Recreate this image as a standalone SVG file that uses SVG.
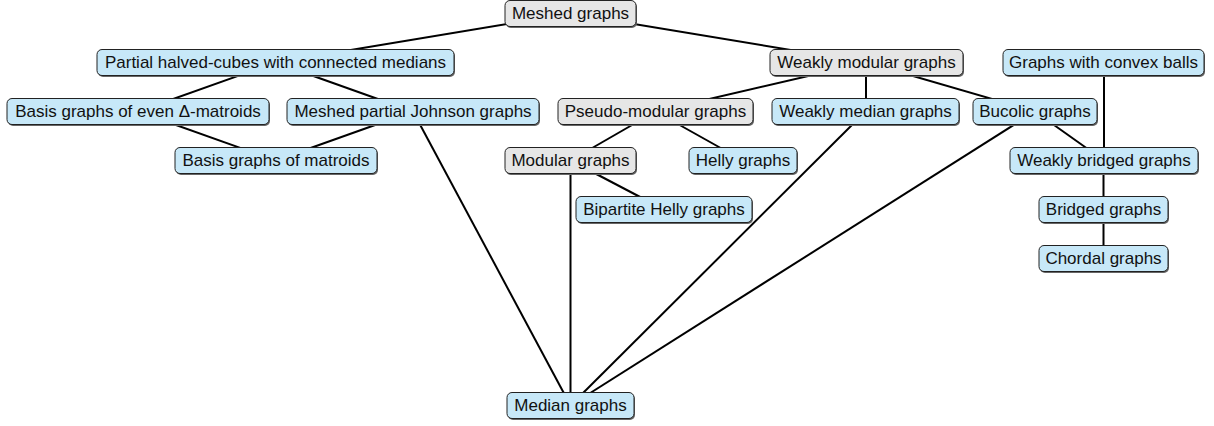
<svg xmlns="http://www.w3.org/2000/svg" width="1214" height="426" viewBox="0 0 1214 426">
<defs>
<style>
.e{stroke:#000;stroke-width:2;fill:none}
.b rect.bx{fill:#c7e8f8;stroke:#222;stroke-width:1}
.g rect.bx{fill:#e6e6e6;stroke:#222;stroke-width:1}
rect.sh{fill:#666;stroke:none}
text{font-family:"Liberation Sans",Arial,sans-serif;font-size:17px;fill:#111;text-anchor:middle}
</style>
</defs>
<rect width="1214" height="426" fill="#fff"/>
<g id="connectors">
<line class="e" x1="570.5" y1="13.5" x2="275.5" y2="62.5"/>
<line class="e" x1="570.5" y1="13.5" x2="866.5" y2="62.5"/>
<line class="e" x1="275.5" y1="62.5" x2="138" y2="111.5"/>
<line class="e" x1="275.5" y1="62.5" x2="413" y2="111.5"/>
<line class="e" x1="138" y1="111.5" x2="275.5" y2="160.5"/>
<line class="e" x1="413" y1="111.5" x2="275.5" y2="160.5"/>
<line class="e" x1="413" y1="111.5" x2="570.5" y2="405.5"/>
<line class="e" x1="866.5" y1="62.5" x2="655.5" y2="111.5"/>
<line class="e" x1="866" y1="62.5" x2="866" y2="111.5"/>
<line class="e" x1="866.5" y1="62.5" x2="1035" y2="111.5"/>
<line class="e" x1="1104" y1="62.5" x2="1104" y2="160.5"/>
<line class="e" x1="655.5" y1="111.5" x2="570.5" y2="160.5"/>
<line class="e" x1="655.5" y1="111.5" x2="743" y2="160.5"/>
<line class="e" x1="570.5" y1="160.5" x2="570.5" y2="405.5"/>
<line class="e" x1="570.5" y1="160.5" x2="664" y2="209.5"/>
<line class="e" x1="865.5" y1="111.5" x2="570.5" y2="405.5"/>
<line class="e" x1="1035" y1="111.5" x2="570.5" y2="405.5"/>
<line class="e" x1="1035" y1="111.5" x2="1104" y2="160.5"/>
<line class="e" x1="1103.5" y1="160.5" x2="1103.5" y2="258.5"/>
</g>
<g id="meshed" class="g"><rect class="sh" x="506" y="2" width="131" height="26" rx="5"/><rect class="bx" x="505" y="0.5" width="131" height="26" rx="5"/><text x="570.5" y="19">Meshed graphs</text></g>
<g id="phc" class="b"><rect class="sh" x="98" y="51" width="357" height="26" rx="5"/><rect class="bx" x="97" y="49.5" width="357" height="26" rx="5"/><text x="275.5" y="68">Partial halved-cubes with connected medians</text></g>
<g id="wmod" class="g"><rect class="sh" x="771" y="51" width="193" height="26" rx="5"/><rect class="bx" x="770" y="49.5" width="193" height="26" rx="5"/><text x="866.5" y="68">Weakly modular graphs</text></g>
<g id="convex" class="b"><rect class="sh" x="1004" y="51" width="201" height="26" rx="5"/><rect class="bx" x="1003" y="49.5" width="201" height="26" rx="5"/><text x="1103.5" y="68">Graphs with convex balls</text></g>
<g id="even" class="b"><rect class="sh" x="8" y="100" width="262" height="26" rx="5"/><rect class="bx" x="7" y="98.5" width="262" height="26" rx="5"/><text x="138" y="117">Basis graphs of even Δ-matroids</text></g>
<g id="mpj" class="b"><rect class="sh" x="288" y="100" width="252" height="26" rx="5"/><rect class="bx" x="287" y="98.5" width="252" height="26" rx="5"/><text x="413" y="117">Meshed partial Johnson graphs</text></g>
<g id="pseudo" class="g"><rect class="sh" x="559" y="100" width="195" height="26" rx="5"/><rect class="bx" x="558" y="98.5" width="195" height="26" rx="5"/><text x="655.5" y="117">Pseudo-modular graphs</text></g>
<g id="wmed" class="b"><rect class="sh" x="773" y="100" width="187" height="26" rx="5"/><rect class="bx" x="772" y="98.5" width="187" height="26" rx="5"/><text x="865.5" y="117">Weakly median graphs</text></g>
<g id="bucolic" class="b"><rect class="sh" x="974" y="100" width="124" height="26" rx="5"/><rect class="bx" x="973" y="98.5" width="124" height="26" rx="5"/><text x="1035" y="117">Bucolic graphs</text></g>
<g id="matroids" class="b"><rect class="sh" x="176" y="149" width="202" height="26" rx="5"/><rect class="bx" x="175" y="147.5" width="202" height="26" rx="5"/><text x="276" y="166">Basis graphs of matroids</text></g>
<g id="modular" class="g"><rect class="sh" x="506" y="149" width="131" height="26" rx="5"/><rect class="bx" x="505" y="147.5" width="131" height="26" rx="5"/><text x="570.5" y="166">Modular graphs</text></g>
<g id="helly" class="b"><rect class="sh" x="690" y="149" width="108" height="26" rx="5"/><rect class="bx" x="689" y="147.5" width="108" height="26" rx="5"/><text x="743" y="166">Helly graphs</text></g>
<g id="wbridged" class="b"><rect class="sh" x="1011" y="149" width="188" height="26" rx="5"/><rect class="bx" x="1010" y="147.5" width="188" height="26" rx="5"/><text x="1104" y="166">Weakly bridged graphs</text></g>
<g id="bhelly" class="b"><rect class="sh" x="577" y="198" width="176" height="26" rx="5"/><rect class="bx" x="576" y="196.5" width="176" height="26" rx="5"/><text x="664" y="215">Bipartite Helly graphs</text></g>
<g id="bridged" class="b"><rect class="sh" x="1040" y="198" width="129" height="26" rx="5"/><rect class="bx" x="1039" y="196.5" width="129" height="26" rx="5"/><text x="1103.5" y="215">Bridged graphs</text></g>
<g id="chordal" class="b"><rect class="sh" x="1040" y="247" width="129" height="26" rx="5"/><rect class="bx" x="1039" y="245.5" width="129" height="26" rx="5"/><text x="1103.5" y="264">Chordal graphs</text></g>
<g id="median" class="b"><rect class="sh" x="508" y="394" width="127" height="26" rx="5"/><rect class="bx" x="507" y="392.5" width="127" height="26" rx="5"/><text x="570.5" y="411">Median graphs</text></g>
</svg>
